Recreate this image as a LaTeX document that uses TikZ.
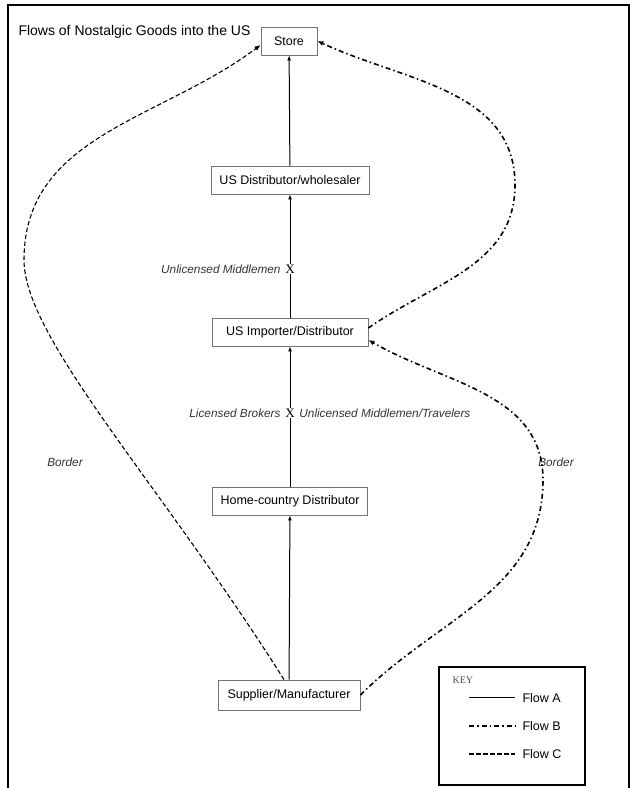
\documentclass[tikz,border=0pt]{standalone}
\usepackage{fontspec}
\setmainfont{Liberation Sans}
\newfontfamily\keyfont{Liberation Serif}
\usetikzlibrary{arrows.meta}

\begin{document}
\begin{tikzpicture}[x=1pt,y=1pt]
\tikzstyle{box}=[draw=black!55, line width=0.8pt, fill=white, minimum height=28pt, inner sep=2pt, font=\fontsize{12.5}{14}\selectfont]
\tikzstyle{lbl}=[font=\fontsize{11.8}{13}\selectfont\itshape, text=black!80]
\tikzstyle{cross}=[inner sep=1pt, font=\keyfont\fontsize{13}{14}\selectfont]
\tikzstyle{flowA}=[line width=1pt, -{Latex[length=5pt,width=4pt]}]
\tikzstyle{flowB}=[line width=1.6pt, dash pattern=on 5pt off 3pt on 1.5pt off 3pt, -{Latex[length=6pt,width=5pt]}]
\tikzstyle{flowC}=[line width=1.1pt, dash pattern=on 4.5pt off 2.5pt, -{Latex[length=6pt,width=5pt]}]

\useasboundingbox (0,0) rectangle (636,788);
\draw[line width=2.5pt] (8,0) -- (8,783) -- (629,783) -- (629,0);

\draw (15,756) node[anchor=west, font=\fontsize{14}{16}\selectfont] (title) {Flows of Nostalgic Goods into the US};

\draw (289,747) node[box, minimum width=56pt] (store) {Store};
\draw (290,608) node[box, minimum width=158pt] (usdist) {US Distributor/wholesaler};
\draw (290,456) node[box, minimum width=156pt] (usimp) {US Importer/Distributor};
\draw (290,287) node[box, minimum width=155pt] (home) {Home-country Distributor};
\draw (289,93) node[box, minimum width=142pt, minimum height=30pt] (supp) {Supplier/Manufacturer};

\draw (290,519) node[cross] (x1) {X};
\draw (290,375) node[cross] (x2) {X};
\draw (x1.west) node[lbl, anchor=east] (unlic1) {Unlicensed Middlemen};
\draw (x2.west) node[lbl, anchor=east] (lic) {Licensed Brokers};
\draw (x2.east) node[lbl, anchor=west] (unlic2) {Unlicensed Middlemen/Travelers};
\draw (65,326) node[lbl] (borderL) {Border};
\draw (556,326) node[lbl] (borderR) {Border};

\coordinate (bendL) at (24,528);
\coordinate (bendBL) at (543,308);
\coordinate (bendBU) at (515,603);

\draw[flowA] (supp) -- (home);
\draw[flowA, -] (home) -- (x2);
\draw[flowA] (x2) -- (usimp);
\draw[flowA, -] (usimp) -- (x1);
\draw[flowA] (x1) -- (usdist);
\draw[flowA] (usdist) -- (store);

\draw[flowC] ([xshift=-5pt]supp.north) .. controls (160,305) and (24,450) .. (bendL) to[out=90,in=-143] ([yshift=-4pt]store.west);
\draw[flowB] (supp.east) to[out=45,in=-90] (bendBL) to[out=90,in=-30] ([yshift=-8pt]usimp.east);
\draw[flowB] ([yshift=4pt]usimp.east) to[out=35,in=-90] (bendBU) to[out=90,in=-25] (store.east);

\draw[line width=2pt] (439,3) rectangle (585,121);
\draw (449,108) node[anchor=west, font=\keyfont\fontsize{10}{12}\selectfont, text=black!70] (key) {KEY};
\draw (519,90) node[anchor=west, font=\fontsize{12.5}{14}\selectfont] (keyA) {Flow A};
\draw (519,62) node[anchor=west, font=\fontsize{12.5}{14}\selectfont] (keyB) {Flow B};
\draw (519,34) node[anchor=west, font=\fontsize{12.5}{14}\selectfont] (keyC) {Flow C};
\draw[flowA, -] ([xshift=-50pt]keyA.west) -- ([xshift=-4pt]keyA.west);
\draw[flowB, -] ([xshift=-50pt]keyB.west) -- ([xshift=-4pt]keyB.west);
\draw[flowC, -] ([xshift=-50pt]keyC.west) -- ([xshift=-4pt]keyC.west);
\end{tikzpicture}
\end{document}
